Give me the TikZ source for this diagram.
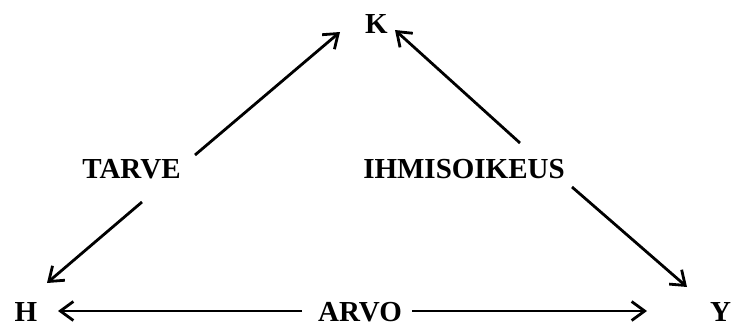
\documentclass[tikz,border=0pt]{standalone}
\usepackage{fontspec}
\setmainfont{Liberation Serif}
\usetikzlibrary{arrows.meta}
\begin{document}
\begin{tikzpicture}[x=1pt,y=-1pt,
  lbl/.style={font=\fontsize{29}{32}\selectfont\bfseries, inner sep=0pt, anchor=base},
  arr/.style={line width=2.8pt, -{Straight Barb[length=13pt,width=19pt,line width=2.8pt]}}]
\useasboundingbox (0,0) rectangle (732,327);
\node[lbl] (K) at (376.5,33) {K};
\node[lbl] (H) at (26,321) {H};
\node[lbl] (Y) at (720.5,321) {Y};
\node[lbl] (arvo) at (360,321) {ARVO};
\node[lbl] (tarve) at (131.5,178) {TARVE};
\node[lbl] (ihmis) at (464,178) {IHMISOIKEUS};
% connector ends
\coordinate (t1) at (195,155);
\coordinate (k1) at (340,32);
\coordinate (t2) at (142,202);
\coordinate (h1) at (47,283);
\coordinate (i1) at (520,143);
\coordinate (k2) at (395,30);
\coordinate (i2) at (572,187);
\coordinate (y1) at (687,287);
\coordinate (a1) at (302,311);
\coordinate (h2) at (58,311);
\coordinate (a2) at (412,311);
\coordinate (y2) at (647,311);
\draw[arr] (t1) -- (k1);
\draw[arr] (t2) -- (h1);
\draw[arr] (i1) -- (k2);
\draw[arr] (i2) -- (y1);
\draw[arr] (a1) -- (h2);
\draw[arr] (a2) -- (y2);
\end{tikzpicture}
\end{document}
